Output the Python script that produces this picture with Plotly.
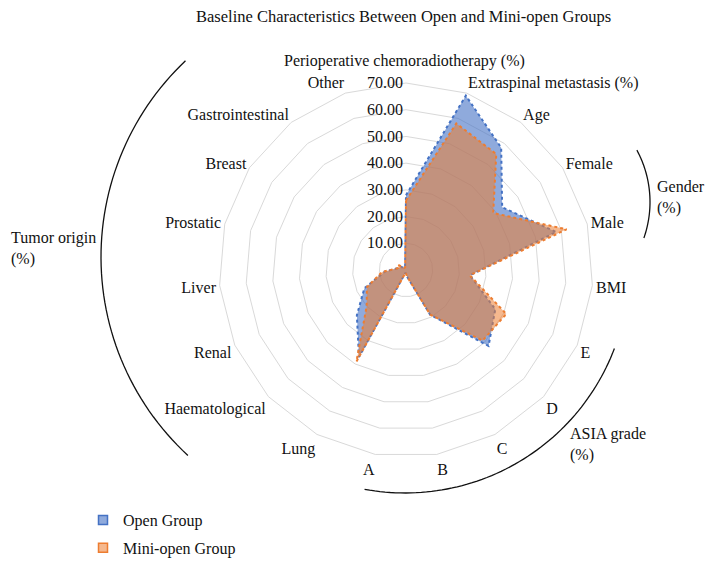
import math
import plotly.graph_objects as go

# screen size and the 8px page margin the browser adds around the figure
SW, SH = 717, 568
PAD = 8
W, H = SW - PAD, SH - PAD

categories = [
    "Perioperative chemoradiotherapy (%)", "Extraspinal metastasis (%)", "Age",
    "Female", "Male", "BMI", "E", "D", "C", "B", "A", "Lung", "Haematological",
    "Renal", "Liver", "Prostatic", "Breast", "Gastrointestinal", "Other",
]
open_group = [28, 69, 58, 43, 58, 24, 36.5, 42, 19, 2.5, 1, 37, 25, 17, 8, 3, 2, 1, 1]
mini_open_group = [26, 58, 55, 39, 62, 24, 41, 39, 19, 2.5, 1, 39, 20, 16, 9, 3, 3.5, 1, 1]
radial_ticks = [10, 20, 30, 40, 50, 60, 70]

FONT = "Liberation Serif"
FS = 16
BLUE, BLUE_FILL = "#4472C4", "rgba(68,114,196,0.6)"
ORANGE, ORANGE_FILL = "#ED7D31", "rgba(237,125,49,0.55)"


def px_x(x):
    return (x - PAD) / W


def px_y(y):
    return 1 - (y - PAD) / H


def arc_path(cx, cy, r, a0, a1, n=60):
    """Polyline arc in screen pixels (degrees, y down) -> paper path."""
    pts = []
    for i in range(n + 1):
        a = math.radians(a0 + (a1 - a0) * i / n)
        pts.append((px_x(cx + r * math.cos(a)), px_y(cy + r * math.sin(a))))
    return "M " + " L ".join(f"{x:.5f},{y:.5f}" for x, y in pts)


fig = go.Figure()
for name, vals, col, fill in [("Open Group", open_group, BLUE, BLUE_FILL),
                              ("Mini-open Group", mini_open_group, ORANGE, ORANGE_FILL)]:
    fig.add_trace(go.Scatterpolar(
        r=vals + vals[:1], theta=categories + categories[:1],
        name=name, fill="toself", fillcolor=fill, mode="lines",
        line=dict(color=col, width=2, dash="dot"), showlegend=False,
    ))
# small square legend keys like the original
for i, (name, col, fill) in enumerate([("Open Group", BLUE, BLUE_FILL),
                                       ("Mini-open Group", ORANGE, ORANGE_FILL)]):
    fig.add_trace(go.Scatterpolar(
        r=[None], theta=[categories[0]], name=name, legendgroup=str(i),
        mode="markers",
        marker=dict(symbol="square", size=9, color=fill, line=dict(color=col, width=1.5)),
    ))

ticktext = [""] + categories[1:]

fig.update_layout(
    width=W, height=H,
    margin=dict(l=0, r=0, t=0, b=0),
    paper_bgcolor="white",
    font=dict(family=FONT, size=FS, color="#111"),
    polar=dict(
        domain=dict(x=[px_x(219), px_x(593)], y=[px_y(457), px_y(83)]),
        bgcolor="white",
        gridshape="linear",
        radialaxis=dict(
            range=[0, 70], tickvals=radial_ticks, tickformat=".2f",
            angle=90, tickangle=90, side="counterclockwise",
            showline=False, ticks="", gridcolor="#d9d9d9", gridwidth=1,
            tickfont=dict(family=FONT, size=FS, color="#111"),
        ),
        angularaxis=dict(
            direction="clockwise", rotation=90, showgrid=False, ticks="",
            tickmode="array", tickvals=categories, ticktext=ticktext,
            showline=True, linecolor="#d9d9d9", linewidth=1,
            tickfont=dict(family=FONT, size=FS, color="#111"),
        ),
    ),
    legend=dict(
        x=px_x(83), y=px_y(503), xanchor="left", yanchor="top",
        tracegroupgap=4, itemwidth=30, font=dict(family=FONT, size=FS),
        bgcolor="rgba(0,0,0,0)",
    ),
    showlegend=True,
)

fig.add_annotation(
    text="Baseline Characteristics Between Open and Mini-open Groups",
    x=px_x(403), y=px_y(17), xref="paper", yref="paper",
    showarrow=False, xanchor="center", yanchor="middle",
    font=dict(family=FONT, size=16.5),
)
fig.add_annotation(
    text=categories[0], x=px_x(404), y=px_y(61), xref="paper", yref="paper",
    showarrow=False, xanchor="center", yanchor="middle",
    font=dict(family=FONT, size=FS),
)

groups = [
    ("Gender<br>(%)", 655, 197),
    ("ASIA grade<br>(%)", 568, 444),
    ("Tumor origin<br>(%)", 9, 248),
]
for text, gx, gy in groups:
    fig.add_annotation(
        text=text, x=px_x(gx), y=px_y(gy), xref="paper", yref="paper",
        showarrow=False, xanchor="left", yanchor="middle", align="left",
        font=dict(family=FONT, size=FS),
    )

arcs = [
    (541, 202, 109, -28.4, 19.3),
    (405, 269, 224, 20.8, 100.4),
    (371, 257, 270, 132.7, 226.6),
]
for cx, cy, r, a0, a1 in arcs:
    fig.add_shape(type="path", path=arc_path(cx, cy, r, a0, a1),
                  xref="paper", yref="paper", line=dict(color="#111", width=1.3))

fig.write_html("out.html")
